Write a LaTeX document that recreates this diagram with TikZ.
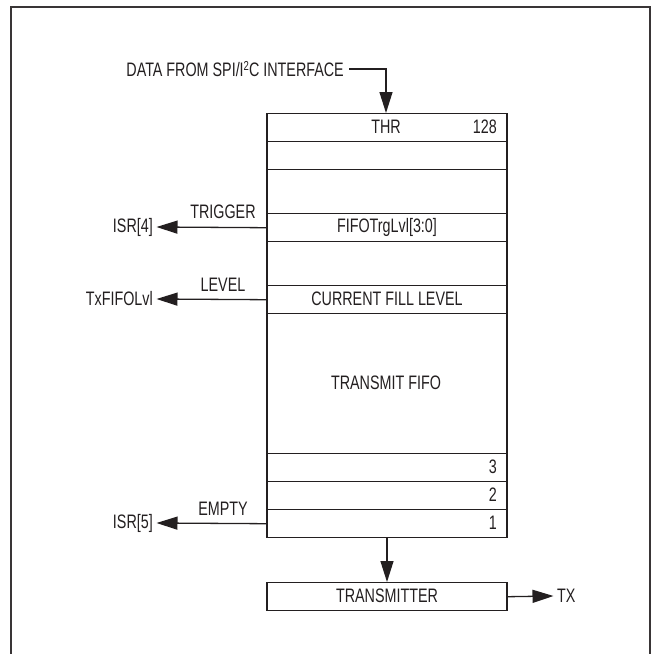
\documentclass[tikz,border=0pt]{standalone}
\usepackage{fontspec}
\setmainfont{Liberation Sans}[FakeStretch=0.735]
\usetikzlibrary{arrows.meta}
\definecolor{ink}{HTML}{231F20}
\tikzset{
  row/.style={draw=ink, line width=1.4pt, minimum width=240pt, inner sep=0pt, anchor=north},
  lbl/.style={inner sep=0pt, text=ink, font=\fontsize{19.5}{21}\selectfont},
  conn/.style={draw=ink, line width=1.3pt, -{Triangle[length=21pt,width=13pt]}},
  frame/.style={draw=ink!90, line width=2pt}
}
\begin{document}
\begin{tikzpicture}[x=1pt,y=-1pt]
\useasboundingbox (0,0) rectangle (652,654);
\draw[frame] (11,655) -- (11,7) -- (650,7) -- (650,655);
% rows of the FIFO
\node[row, minimum height=28pt] (thr) at (387,113) {};
\node[row, minimum height=28pt] (r2) at (387,141) {};
\node[row, minimum height=44pt] (r3) at (387,169) {};
\node[row, minimum height=28pt] (trg) at (387,213) {};
\node[row, minimum height=44pt] (r5) at (387,241) {};
\node[row, minimum height=28pt] (fill) at (387,285) {};
\node[row, minimum height=140pt] (fifo) at (387,313) {};
\node[row, minimum height=28pt] (n3) at (387,453) {};
\node[row, minimum height=28pt] (n2) at (387,481) {};
\node[row, minimum height=28pt] (n1) at (387,509) {};
\node[row, minimum height=28pt] (tx) at (387,582) {};
% texts in rows
\node[lbl] (thrt) at (386,127) {THR};
\node[lbl, anchor=east] (t128) at (497,127) {128};
\node[lbl] (trgt) at (387,227) {FIFOTrgLvl[3:0]};
\node[lbl] (fillt) at (387,299) {CURRENT FILL LEVEL};
\node[lbl] (fifot) at (386,383) {TRANSMIT FIFO};
\node[lbl, anchor=east] (t3) at (497,467) {3};
\node[lbl, anchor=east] (t2) at (497,495) {2};
\node[lbl, anchor=east] (t1) at (497,523) {1};
\node[lbl] (txt) at (387,596) {TRANSMITTER};
% outer labels
\node[lbl, anchor=east] (data) at (344,69) {DATA FROM SPI/I\raisebox{0.55ex}{\fontsize{13}{13}\selectfont 2}C INTERFACE};
\node[lbl, anchor=east, inner xsep=3.5pt] (isr4) at (156.5,227) {ISR[4]};
\node[lbl, anchor=east, inner xsep=3.5pt] (lvl) at (156.5,299) {TxFIFOLvl};
\node[lbl, anchor=east, inner xsep=3.5pt] (isr5) at (156.5,523) {ISR[5]};
\node[lbl, anchor=west, inner xsep=3.5pt] (txo) at (553.5,596) {TX};
\node[lbl] (trigl) at (223,212) {TRIGGER};
\node[lbl] (levl) at (223,285) {LEVEL};
\node[lbl] (empl) at (223,509) {EMPTY};
\coordinate (bend) at (386,69);
% connectors
\draw[conn] ([xshift=5pt]data.east) -- (bend) -- (thr.north -| bend);
\draw[conn] (trg.west) -- (isr4.east);
\draw[conn] (fill.west) -- (lvl.east);
\draw[conn] (n1.west) -- (isr5.east);
\draw[conn] (n1.south) -- (tx.north);
\draw[conn] (tx.east) -- (txo.west);
\end{tikzpicture}
\end{document}
